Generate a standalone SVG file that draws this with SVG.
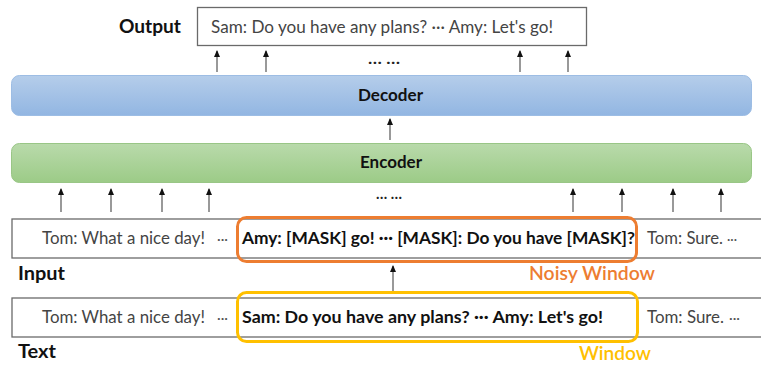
<svg xmlns="http://www.w3.org/2000/svg" width="761" height="367" viewBox="0 0 761 367">
<defs>
<linearGradient id="gBlue" x1="0" y1="0" x2="0" y2="1">
<stop offset="0" stop-color="#b5cdea"/>
<stop offset="1" stop-color="#92b6e2"/>
</linearGradient>
<linearGradient id="gGreen" x1="0" y1="0" x2="0" y2="1">
<stop offset="0" stop-color="#b9daab"/>
<stop offset="1" stop-color="#9ccb87"/>
</linearGradient>
<marker id="ah" markerWidth="8" markerHeight="8" refX="6" refY="3" orient="auto" markerUnits="userSpaceOnUse">
<path d="M0,0 L7,3 L0,6 Z" fill="#111"/>
</marker>
</defs>
<style>
text { font-family: Lato, "Noto Sans", "DejaVu Sans", sans-serif; }
.lbl { font-weight: bold; font-size: 18px; fill: #111; }
.gray { font-size: 17px; fill: #444; }
.bold { font-size: 17px; font-weight: bold; fill: #111; }
.row { fill: #fff; stroke: #6a6a6a; stroke-width: 1.3; }
.arr { stroke: #555; stroke-width: 1.2; fill: none; marker-end: url(#ah); }
.dots { font-size: 15px; font-weight: bold; fill: #222; }
.ell { font-size: 14px; fill: #555; }
</style>

<g id="output">
<text class="lbl" x="119" y="33" textLength="62" lengthAdjust="spacingAndGlyphs">Output</text>
<rect x="197.5" y="7.5" width="389" height="38" fill="#fff" stroke="#6a6a6a" stroke-width="1.3"/>
<text class="gray" x="211" y="33" textLength="342" lengthAdjust="spacingAndGlyphs">Sam: Do you have any plans? ··· Amy: Let's go!</text>
</g>

<g id="decoder">
<rect x="11.5" y="75.5" width="740" height="40" rx="8" fill="url(#gBlue)" stroke="#9dbde4" stroke-width="1"/>
<text class="bold" x="390.5" y="101" font-size="16" text-anchor="middle" textLength="65" lengthAdjust="spacingAndGlyphs">Decoder</text>
</g>

<g id="encoder">
<rect x="11.5" y="143.5" width="740" height="39" rx="8" fill="url(#gGreen)" stroke="#99c686" stroke-width="1"/>
<text class="bold" x="391" y="168" font-size="16" text-anchor="middle" textLength="62" lengthAdjust="spacingAndGlyphs">Encoder</text>
</g>

<g id="input">
<rect class="row" x="12" y="219" width="760" height="39"/>
<text class="gray" x="42" y="244" textLength="163" lengthAdjust="spacingAndGlyphs">Tom: What a nice day!</text>
<text class="ell" x="217" y="244" textLength="11" lengthAdjust="spacingAndGlyphs">···</text>
<text class="bold" x="242" y="244" textLength="393" lengthAdjust="spacingAndGlyphs">Amy: [MASK] go! ··· [MASK]: Do you have [MASK]?</text>
<text class="gray" x="647" y="244" textLength="76" lengthAdjust="spacingAndGlyphs">Tom: Sure.</text>
<text class="ell" x="727" y="244" textLength="10" lengthAdjust="spacingAndGlyphs">···</text>
<text class="lbl" x="18" y="280" textLength="47" lengthAdjust="spacingAndGlyphs">Input</text>
</g>

<g id="noisy-window">
<rect x="237.5" y="217.5" width="399" height="44" rx="9" fill="none" stroke="#ed7d31" stroke-width="3"/>
<text x="529" y="280" font-size="19" font-weight="600" fill="#ed7d31" textLength="126" lengthAdjust="spacingAndGlyphs">Noisy Window</text>
</g>

<g id="text">
<rect class="row" x="12" y="298" width="760" height="39"/>
<text class="gray" x="42" y="323" textLength="163" lengthAdjust="spacingAndGlyphs">Tom: What a nice day!</text>
<text class="ell" x="217" y="323" textLength="11" lengthAdjust="spacingAndGlyphs">···</text>
<text class="bold" x="242" y="323" textLength="361" lengthAdjust="spacingAndGlyphs">Sam: Do you have any plans? ··· Amy: Let's go!</text>
<text class="gray" x="647" y="323" textLength="77" lengthAdjust="spacingAndGlyphs">Tom: Sure.</text>
<text class="ell" x="729" y="323" textLength="11" lengthAdjust="spacingAndGlyphs">···</text>
<text class="lbl" x="18" y="358" textLength="38" lengthAdjust="spacingAndGlyphs">Text</text>
</g>

<g id="window">
<rect x="237.5" y="292.5" width="400" height="49" rx="9" fill="none" stroke="#ffc000" stroke-width="3"/>
<text x="579" y="360" font-size="19" font-weight="600" fill="#ffc000" textLength="72" lengthAdjust="spacingAndGlyphs">Window</text>
</g>

<g id="connectors">
<line class="arr" x1="217" y1="72" x2="217" y2="51"/>
<line class="arr" x1="266" y1="72" x2="266" y2="51"/>
<line class="arr" x1="520" y1="72" x2="520" y2="51"/>
<line class="arr" x1="568" y1="72" x2="568" y2="51"/>
<line class="arr" x1="390" y1="140" x2="390" y2="119"/>
<line class="arr" x1="61" y1="212" x2="61" y2="189"/>
<line class="arr" x1="111" y1="212" x2="111" y2="189"/>
<line class="arr" x1="162" y1="212" x2="162" y2="189"/>
<line class="arr" x1="209" y1="212" x2="209" y2="189"/>
<line class="arr" x1="573" y1="212" x2="573" y2="189"/>
<line class="arr" x1="622" y1="212" x2="622" y2="189"/>
<line class="arr" x1="673" y1="212" x2="673" y2="189"/>
<line class="arr" x1="721" y1="212" x2="721" y2="189"/>
<line class="arr" x1="393" y1="291" x2="393" y2="266"/>
<text class="dots" x="384" y="64" text-anchor="middle" textLength="32" lengthAdjust="spacingAndGlyphs">… …</text>
<text class="dots" x="389" y="199" text-anchor="middle" textLength="26" lengthAdjust="spacingAndGlyphs">… …</text>
</g>
</svg>
